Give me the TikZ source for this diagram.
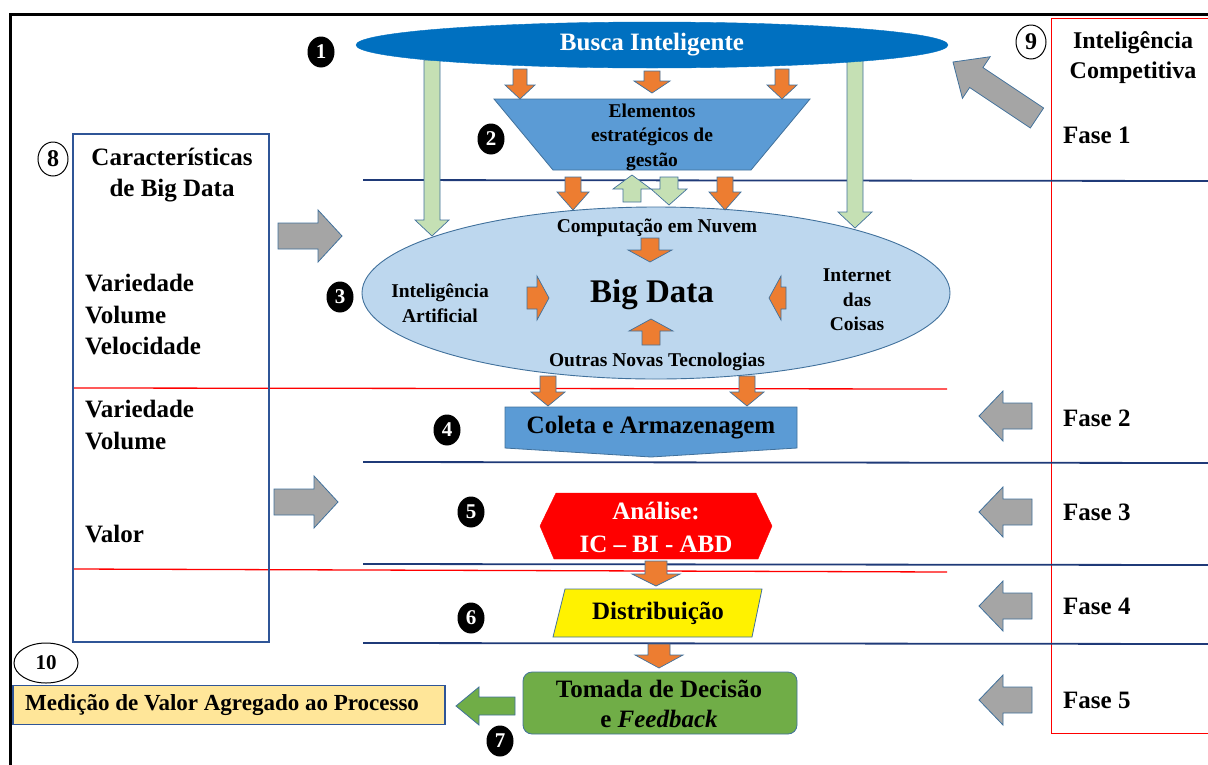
\documentclass[tikz,border=0pt]{standalone}
\usepackage{fontspec}
\setmainfont{Liberation Serif}
\usetikzlibrary{calc,shapes.geometric}
\definecolor{navy}{HTML}{1F3A78}
\definecolor{boxblue}{HTML}{2F5597}
\definecolor{outl}{HTML}{41719C}
\definecolor{orangeA}{HTML}{ED7D31}
\definecolor{greenL}{HTML}{C5E0B4}
\definecolor{greyA}{HTML}{A5A5A5}
\definecolor{buscaB}{HTML}{0070C0}
\definecolor{midB}{HTML}{5B9BD5}
\definecolor{lightB}{HTML}{BDD7EE}
\definecolor{greenM}{HTML}{70AD47}
\definecolor{yellowL}{HTML}{FFE699}
\newcommand\barrow[6]{%
  \coordinate (ba0) at (#2);
  \coordinate (ba1) at (#3);
  \coordinate (bah) at ($(ba1)!#6!(ba0)$);
  \filldraw[#1] ($(ba0)!#4!90:(ba1)$) -- ($(bah)!#4!90:(ba1)$) -- ($(bah)!#5!90:(ba1)$) -- (ba1) -- ($(bah)!#5!-90:(ba1)$) -- ($(bah)!#4!-90:(ba1)$) -- ($(ba0)!#4!-90:(ba1)$) -- cycle;}
\begin{document}
\begin{tikzpicture}[x=1pt,y=-1pt,
  big/.style={font=\fontsize{25}{31.5}\selectfont\bfseries, inner sep=0},
  small/.style={font=\fontsize{19.5}{24.5}\selectfont\bfseries, inner sep=0},
  blackdot/.style={ellipse, fill=black, minimum width=27, minimum height=31, inner sep=0, text=white, font=\fontsize{21}{21}\selectfont\bfseries},
  ringnum/.style={ellipse, draw=black, line width=1pt, minimum width=30, minimum height=34, inner sep=0, font=\fontsize{24}{24}\selectfont\bfseries},
  orangeArr/.style={fill=orangeA, draw=outl, line width=0.7pt},
  greenArr/.style={fill=greenL, draw=outl, line width=0.7pt},
  greyArr/.style={fill=greyA, draw=outl, line width=0.8pt},
  greenDarkArr/.style={fill=greenM, draw=outl, line width=0.8pt},
  navyline/.style={draw=navy, line width=1.8pt},
  redline/.style={draw=red, line width=1.3pt},
]
\useasboundingbox (0,0) rectangle (1208,764);
% frame
\draw[line width=3pt] (10,770) -- (10,14) -- (1215,14);
\draw[red, line width=0.9pt] (1215,733) -- (1051,733) -- (1051,18) -- (1215,18);
% phase lines
\draw[navyline] (363,180) -- (1215,181);
\draw[navyline] (363,462) -- (1215,463);
\draw[navyline] (363,564) -- (1215,565);
\draw[navyline] (363,643) -- (1215,644);
\draw[redline] (73,388) -- (947,389);
\draw[redline] (73,569) -- (947,572);
% left characteristics box
\node[draw=boxblue, line width=1.1pt, minimum width=196, minimum height=508, inner sep=0] (chbox) at (171,388) {};
\node[ringnum] (r8) at (53,159) {8};
\node[big, align=center] (chtitle) at (172,175) {Características\\de Big Data};
\node[big, align=left, anchor=west] (ch1) at (85,315) {Variedade\\Volume\\Velocidade};
\node[big, align=left, anchor=west] (ch2) at (85,425) {Variedade\\Volume};
\node[big, anchor=west] (ch3) at (85,534) {Valor};
% competitive intelligence column
\node[ringnum] (r9) at (1031,42) {9};
\node[big, align=center, font=\fontsize{24}{30}\selectfont\bfseries] (ictitle) at (1133,58) {Inteligência\\Competitiva};
\node[big, anchor=west] (f1) at (1063,135) {Fase 1};
\node[big, anchor=west] (f2) at (1063,418) {Fase 2};
\node[big, anchor=west] (f3) at (1063,512) {Fase 3};
\node[big, anchor=west] (f4) at (1063,606) {Fase 4};
\node[big, anchor=west] (f5) at (1063,700) {Fase 5};
% grey arrows
\barrow{greyArr}{1037,118}{953,62}{12pt}{25pt}{28pt}
\barrow{greyArr}{1032,416}{979,416}{13pt}{25pt}{24pt}
\barrow{greyArr}{1032,512}{979,512}{13pt}{25pt}{24pt}
\barrow{greyArr}{1032,606}{979,606}{13pt}{25pt}{24pt}
\barrow{greyArr}{1032,700}{979,700}{13pt}{25pt}{24pt}
\barrow{greyArr}{278,236}{342,236}{13pt}{26pt}{24pt}
\barrow{greyArr}{274,502}{338,502}{13pt}{26pt}{24pt}
% Big Data ellipse
\node[ellipse, fill=lightB, draw=outl, line width=0.9pt, minimum width=588, minimum height=172, inner sep=0] (bd) at (656,293) {};
\node[small] (nuvem) at (657,228) {Computação em Nuvem};
\node[font=\fontsize{33}{33}\selectfont\bfseries, inner sep=0] (bigdata) at (652,295) {Big Data};
\node[small, align=center] (ia) at (440,303) {Inteligência\\Artificial};
\node[small, align=center] (iot) at (857,300) {Internet\\das\\Coisas};
\node[small] (outras) at (657,362) {Outras Novas Tecnologias};
\barrow{orangeArr}{650,238}{650,262}{9pt}{22pt}{12pt}
\barrow{orangeArr}{651,345}{651,319}{9pt}{22pt}{12pt}
\barrow{orangeArr}{527,298}{549,298}{11pt}{22pt}{12pt}
\barrow{orangeArr}{786,298}{769,298}{11pt}{22pt}{12pt}
% green long arrows
\barrow{greenArr}{432,60}{432,236}{8pt}{17pt}{16pt}
\barrow{greenArr}{855,60}{855,228}{8pt}{17pt}{16pt}
% Busca ellipse
\node[ellipse, fill=buscaB, draw=buscaB, minimum width=592, minimum height=46, inner sep=0, text=white, font=\fontsize{25}{25}\selectfont\bfseries] (busca) at (652,45) {Busca Inteligente};
\node[blackdot] (n1) at (321,52) {1};
% trapezoid
\filldraw[fill=midB, draw=outl, line width=0.8pt] (494,99) -- (810,99) -- (751,170) -- (553,170) -- cycle;
\node[small, align=center] (elem) at (652,137) {Elementos\\estratégicos de\\gestão};
\node[blackdot] (n2) at (491,139) {2};
\barrow{orangeArr}{520,69}{520,99}{7pt}{15pt}{14pt}
\barrow{orangeArr}{652,71}{652,93}{8pt}{18pt}{12pt}
\barrow{orangeArr}{782,69}{782,99}{7pt}{15pt}{14pt}
% between trapezoid and Big Data
\barrow{orangeArr}{573,177}{573,210}{8pt}{16pt}{18pt}
\barrow{orangeArr}{725,177}{725,210}{8pt}{16pt}{18pt}
\barrow{greenArr}{632,202}{632,175}{9pt}{19pt}{14pt}
\barrow{greenArr}{669,177}{669,205}{9pt}{18pt}{16pt}
\node[blackdot] (n3) at (340,297) {3};
% Coleta
\barrow{orangeArr}{548,376}{548,406}{8pt}{17pt}{14pt}
\barrow{orangeArr}{747,376}{747,406}{8pt}{17pt}{14pt}
\filldraw[fill=midB, draw=outl, line width=0.8pt] (505,407) -- (797,407) -- (797,448) -- (651,457) -- (505,448) -- cycle;
\node[big] (coleta) at (651,428) {Coleta e Armazenagem};
\node[blackdot] (n4) at (447,430) {4};
% Analise
\filldraw[fill=red, draw=red] (540,526) -- (556,493) -- (756,493) -- (772,526) -- (758,559) -- (554,559) -- cycle;
\node[big, align=center, text=white, font=\fontsize{25}{33}\selectfont\bfseries] (analise) at (656,527) {Análise:\\IC – BI - ABD};
\node[blackdot] (n5) at (471,512) {5};
\barrow{orangeArr}{656,561}{656,586}{11pt}{24pt}{12pt}
% Distribuicao
\filldraw[fill=yellow, draw=outl, line width=0.8pt] (565,589) -- (762,589) -- (752,637) -- (553,637) -- cycle;
\node[big] (distr) at (658,613) {Distribuição};
\node[blackdot] (n6) at (471,618) {6};
\barrow{orangeArr}{659,644}{659,668}{11pt}{24pt}{13pt}
% Tomada de decisao
\node[rounded corners=9pt, fill=greenM, draw=outl, line width=0.8pt, minimum width=274, minimum height=62, inner sep=0] (tomada) at (660,703) {};
\node[big, align=center, font=\fontsize{25}{30}\selectfont\bfseries] (tomtxt) at (659,704) {Tomada de Decisão\\e \textit{Feedback}};
\node[blackdot] (n7) at (500,741) {7};
\barrow{greenDarkArr}{515,706}{456,706}{9pt}{19pt}{23pt}
% Medicao
\node[draw=boxblue, line width=1.3pt, fill=yellowL, minimum width=432, minimum height=39, inner sep=0] (med) at (229,705) {};
\node[font=\fontsize{23}{23}\selectfont\bfseries, inner sep=0, anchor=west] (medtxt) at (25,705) {Medição de Valor Agregado ao Processo};
\node[ellipse, draw=black, line width=1pt, minimum width=64, minimum height=40, inner sep=0, font=\fontsize{21}{21}\selectfont\bfseries] (r10) at (46,663) {10};
\end{tikzpicture}
\end{document}
